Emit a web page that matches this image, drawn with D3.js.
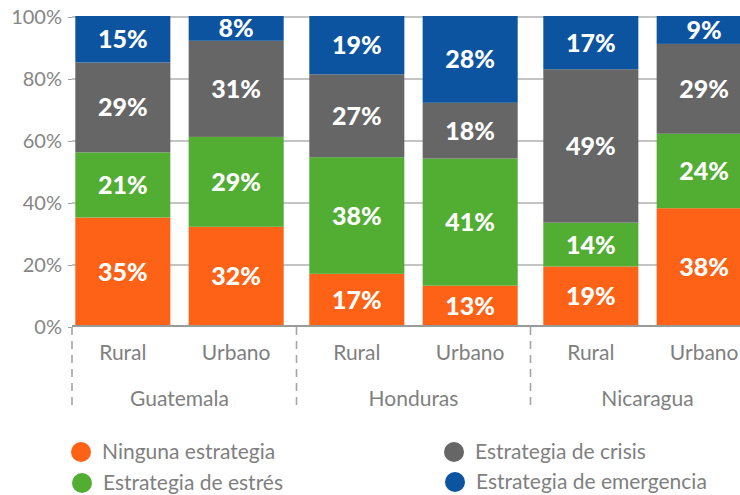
<!DOCTYPE html>
<html><head><meta charset="utf-8">
<script src="https://cdn.jsdelivr.net/npm/d3@7"></script>
<style>
html,body{margin:0;padding:0;background:#fff;}
svg{display:block;font-family:Lato,"Open Sans",sans-serif;}
</style></head>
<body><svg id="c" width="740" height="495"></svg>
<script>
const countries = ["Guatemala","Honduras","Nicaragua"];
const areas = ["Rural","Urbano"];
const seriesNames = ["Ninguna estrategia","Estrategia de estrés","Estrategia de crisis","Estrategia de emergencia"];
const seriesColors = ["#FD6216","#52AD33","#666666","#0C54A0"];
const ninguna    = [35,32,17,13,19,38];
const estres     = [21,29,38,41,14,24];
const crisis     = [29,31,27,18,49,29];
const emergencia = [15,8,19,28,17,9];
const yTicks = [0,20,40,60,80,100];

const series = [ninguna, estres, crisis, emergencia];
const bars = [];
countries.forEach(c => areas.forEach(a => bars.push({country:c, area:a})));
bars.forEach((b,i) => { seriesNames.forEach((s,j)=>{ b[s] = series[j][i]; }); });

const svg = d3.select("#c");
const xc = d3.scaleBand().domain(countries).range([62.5,764.5]).padding(0);
const xa = d3.scaleBand().domain(areas).range([0,xc.bandwidth()]).paddingInner(0.1615).paddingOuter(0.113);
const bx = d => xc(d.country) + xa(d.area);
const y = d3.scaleLinear().domain([0,100]).range([326,16]);
const axisLeftX = 72, rightX = 740;

// gridlines
svg.append("g").selectAll("line").data(yTicks.filter(t=>t>0)).join("line")
  .attr("x1",axisLeftX).attr("x2",rightX).attr("y1",d=>y(d)+1).attr("y2",d=>y(d)+1)
  .attr("stroke","#c4c4c4").attr("stroke-width",2);

// y axis labels
const yAxis = d3.axisLeft(y).tickValues(yTicks).tickFormat(d=>d+"%").tickSize(4).tickPadding(6);
const ya = svg.append("g").attr("transform",`translate(${axisLeftX},1)`).call(yAxis);
ya.select(".domain").remove();
ya.selectAll(".tick line").attr("stroke","#a0a0a0");
ya.selectAll(".tick text").attr("fill","#858585").style("font-size","20px").style("font-family","Lato");

// stacked bars (normalised to 100%)
const stack = d3.stack().keys(seriesNames).offset(d3.stackOffsetExpand)(bars);
const layers = svg.append("g").selectAll("g").data(stack).join("g")
  .attr("fill",(d,i)=>seriesColors[i]);
layers.selectAll("rect").data(d=>d).join("rect")
  .attr("x",d=>bx(d.data)).attr("width",xa.bandwidth())
  .attr("y",d=>y(d[1]*100)).attr("height",d=>y(d[0]*100)-y(d[1]*100));

// value labels
const lab = svg.append("g");
stack.forEach(layer => {
  lab.selectAll(null).data(layer).join("text")
    .attr("x",d=>bx(d.data)+xa.bandwidth()/2)
    .attr("y",d=>(y(d[0]*100)+y(d[1]*100))/2)
    .attr("dy","0.36em")
    .attr("text-anchor","middle")
    .attr("fill","#fff")
    .style("font-size","25px").style("font-weight","900").style("font-family","Lato")
    .text(d=>d.data[layer.key]+"%");
});

// baseline
svg.append("line").attr("x1",axisLeftX).attr("x2",rightX).attr("y1",y(0)).attr("y2",y(0))
  .attr("stroke","#9a9a9a").attr("stroke-width",2);

// category labels
svg.append("g").selectAll("text").data(bars).join("text")
  .attr("x",d=>bx(d)+xa.bandwidth()/2).attr("y",360)
  .attr("text-anchor","middle").attr("fill","#7f7f7f")
  .style("font-size","21px").text(d=>d.area);

// group labels and dividers
svg.append("g").selectAll("text").data(countries).join("text")
  .attr("x",d=>xc(d)+xc.bandwidth()/2).attr("y",406).attr("text-anchor","middle").attr("fill","#7f7f7f")
  .style("font-size","21px").text(d=>d);
svg.append("g").selectAll("line").data(countries).join("line")
  .attr("x1",(d,i)=>i===0?axisLeftX:xc(d)).attr("x2",(d,i)=>i===0?axisLeftX:xc(d))
  .attr("y1",y(0)+1).attr("y2",410)
  .attr("stroke","#a5a5a5").attr("stroke-width",1.6).attr("stroke-dasharray","8,6");

// legend
const legPos = [[81,452],[82,483],[454,452],[455,482]];
const leg = svg.append("g").selectAll("g").data([0,1,2,3]).join("g")
  .attr("transform",d=>`translate(${legPos[d][0]},${legPos[d][1]})`);
leg.append("circle").attr("r",10).attr("fill",d=>seriesColors[d]);
leg.append("text").attr("x",21).attr("y",0).attr("dy","0.35em").attr("fill","#7f7f7f")
  .style("font-size","21px").text(d=>seriesNames[d]);
</script>
</body></html>
